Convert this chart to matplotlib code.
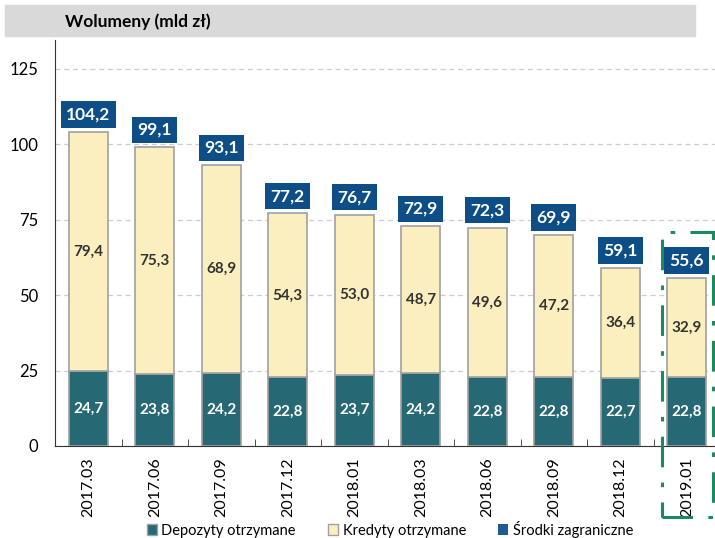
import matplotlib
matplotlib.use("Agg")
import matplotlib.pyplot as plt
from matplotlib.patches import Rectangle, Patch
import numpy as np

plt.rcParams['font.family'] = ['Lato', 'DejaVu Sans']

# data
categories = ['2017.03', '2017.06', '2017.09', '2017.12', '2018.01',
              '2018.03', '2018.06', '2018.09', '2018.12', '2019.01']
depozyty = [24.7, 23.8, 24.2, 22.8, 23.7, 24.2, 22.8, 22.8, 22.7, 22.8]
kredyty = [79.4, 75.3, 68.9, 54.3, 53.0, 48.7, 49.6, 47.2, 36.4, 32.9]
totals = [104.2, 99.1, 93.1, 77.2, 76.7, 72.9, 72.3, 69.9, 59.1, 55.6]

teal = '#266873'
cream = '#fbefbf'
navy = '#0c4e85'
edge = '#a0a0a0'

fig = plt.figure(figsize=(7.15, 5.38), dpi=100)
ax = fig.add_axes([55/715, 1 - 446/538, 665/715, 406/538])

x = np.arange(len(categories))
w = 0.59
ax.bar(x, depozyty, w, color=teal, edgecolor=edge, linewidth=1.2, zorder=3)
ax.bar(x, kredyty, w, bottom=depozyty, color=cream, edgecolor=edge,
       linewidth=1.2, zorder=3)

for i in range(len(x)):
    ax.text(x[i], depozyty[i] / 2, f'{depozyty[i]:.1f}'.replace('.', ','),
            ha='center', va='center', color='white', fontsize=11,
            fontweight='bold', zorder=4)
    ax.text(x[i], depozyty[i] + kredyty[i] / 2,
            f'{kredyty[i]:.1f}'.replace('.', ','), ha='center', va='center',
            color='#333333', fontsize=11, fontweight='bold', zorder=4)
    ax.annotate(f'{totals[i]:.1f}'.replace('.', ','),
                (x[i], depozyty[i] + kredyty[i]), xytext=(0, 12.5),
                textcoords='offset points', ha='center', va='center',
                color='white', fontsize=12.5, fontweight='bold', zorder=5,
                bbox=dict(boxstyle='square,pad=0.3', fc=navy, ec='none'))

ax.set_xlim(-0.5, 9.5)
ax.set_ylim(0, 134.6)
ax.set_yticks([0, 25, 50, 75, 100, 125])
ax.yaxis.grid(True, linestyle=(0, (4, 3)), color='#cccccc', linewidth=0.9, zorder=0)
ax.set_xticks(x)
ax.set_xticklabels(categories, rotation=90, fontsize=11.5)
ax.set_xticks(np.arange(-0.5, 10, 1), minor=True)
ax.tick_params(axis='x', which='major', length=0, pad=8)
ax.tick_params(axis='x', which='minor', length=5, direction='in', color='#333333')
ax.tick_params(axis='y', length=0, labelsize=12, pad=12)
for s in ['top', 'right']:
    ax.spines[s].set_visible(False)
ax.spines['left'].set_color('#333333')
ax.spines['bottom'].set_color('#333333')

# highlight box around the last bar
ax.add_patch(Rectangle((8.63, -23.5), 0.77, 94.5, fill=False, ec='#1b8a5f',
                       lw=2.2, ls=(0, (10, 5, 1.5, 5)), clip_on=False, zorder=6))

# title band
fig.patches.append(Rectangle((5/715, 1 - 36/538), 690/715, 31/538,
                             transform=fig.transFigure, color='#d9d9d9', zorder=0))
fig.text(65/715, 1 - 22/538, 'Wolumeny (mld zł)', fontsize=12.5,
         fontweight='bold', va='center', ha='left')

handles = [Patch(fc=teal, ec=edge), Patch(fc=cream, ec=edge), Patch(fc='#1f5a96', ec='none')]
labels = ['Depozyty otrzymane', 'Kredyty otrzymane', 'Środki zagraniczne']
fig.legend(handles, labels, loc='center', bbox_to_anchor=(390/715, 1 - 529/538),
           ncol=3, frameon=False, fontsize=10.5, handlelength=0.7,
           handleheight=0.7, handletextpad=0.3, columnspacing=2.2)

fig.savefig('out.png', dpi=100)
